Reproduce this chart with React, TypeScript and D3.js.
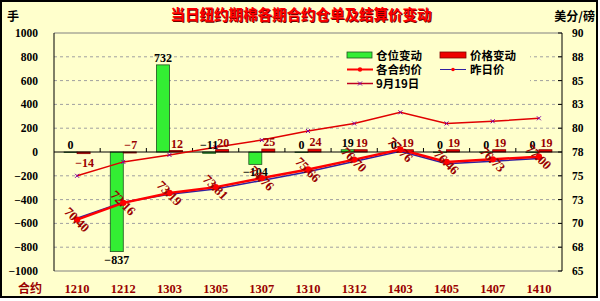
import React from "react";
import * as d3 from "d3";

const categories = ["1210", "1212", "1303", "1305", "1307", "1310", "1312", "1403", "1405", "1407", "1410"];
const positionChange = [0, -837, 732, -11, -104, 0, 19, 0, 0, 0, 0];
const priceChange = [-14, -7, 12, 20, 25, 24, 19, 19, 19, 19, 19];
const todayPrice = [70.40, 72.16, 73.19, 73.81, 74.76, 75.66, 76.70, 77.76, 76.46, 76.73, 77.00];
const yesterdayPrice = [70.54, 72.23, 73.07, 73.61, 74.51, 75.42, 76.51, 77.57, 76.27, 76.54, 76.81];
const sep19Price = [75.0, 76.46, 77.19, 78.0, 78.75, 79.7, 80.5, 81.67, 80.5, 80.73, 81.04];
const leftTicks = [-1000, -800, -600, -400, -200, 0, 200, 400, 600, 800, 1000];
const rightTicks = [65, 67.5, 70, 72.5, 75, 77.5, 80, 82.5, 85, 87.5, 90];

const BG = "#FFFFCC";
const DARKRED = "#990000";
const FONT = "'Liberation Serif', 'Noto Sans CJK SC', serif";
const CJK = "'Noto Sans CJK SC', sans-serif";

export default function App() {
  const W = 600, H = 301;
  const left = 54, right = 562, top = 33, bottom = 271;
  const x = d3.scaleBand<string>().domain(categories).range([left, right]).padding(0);
  const yL = d3.scaleLinear().domain([-1000, 1000]).range([bottom, top]);
  const yR = d3.scaleLinear().domain([65, 90]).range([bottom, top]);
  const cx = (c: string) => (x(c) as number) + x.bandwidth() / 2;
  const bw = 13;

  const lineR = d3.line<number>().x((_, i) => cx(categories[i])).y((v) => yR(v));

  return (
    <div style={{ position: "fixed", left: 0, top: 0 }}>
      <svg width={W} height={H} style={{ display: "block", background: "#fff" }}>
        <rect x={1} y={1} width={596} height={296} fill={BG} stroke="#000" strokeWidth={2} />
        {/* title */}
        <text x={301} y={20} textAnchor="middle" fontFamily={CJK} fontWeight="bold" fontSize={14.5} fill="#700000" dx={1} dy={1}>
          当日纽约期棉各期合约仓单及结算价变动
        </text>
        <text x={301} y={20} textAnchor="middle" fontFamily={CJK} fontWeight="bold" fontSize={14.5} fill="#FF0000">
          当日纽约期棉各期合约仓单及结算价变动
        </text>
        <text x={7} y={21} fontFamily={CJK} fontWeight="bold" fontSize={12} fill="#000">手</text>
        <text x={595} y={21} textAnchor="end" fontFamily={CJK} fontWeight="bold" fontSize={12} fill="#000">美分/磅</text>

        {/* grid */}
        {leftTicks.filter((t) => t !== 0 && t !== 1000 && t !== -1000).map((t) => (
          <line key={"g" + t} x1={left} x2={right} y1={yL(t)} y2={yL(t)} stroke="#A0A0A0" strokeDasharray="3,3" strokeWidth={1} />
        ))}
        <line x1={left} x2={right} y1={top} y2={top} stroke="#808080" />
        <line x1={left} x2={right} y1={bottom} y2={bottom} stroke="#808080" />
        <line x1={left} x2={left} y1={top} y2={bottom} stroke="#000" />
        <line x1={right} x2={right} y1={top} y2={bottom} stroke="#000" />
        {rightTicks.map((t) => (
          <line key={"rt" + t} x1={right - 4} x2={right} y1={yR(t)} y2={yR(t)} stroke="#000" />
        ))}

        {/* left axis labels */}
        {leftTicks.map((t) => (
          <text key={"l" + t} x={38} y={yL(t)} dy="0.35em" textAnchor="end" fontFamily={FONT} fontWeight="bold" fontSize={11.5} fill="#000">
            {t < 0 ? "\u2212" + Math.abs(t) : t}
          </text>
        ))}
        {rightTicks.map((t) => (
          <text key={"r" + t} x={572} y={yR(t)} dy="0.35em" textAnchor="start" fontFamily={FONT} fontWeight="bold" fontSize={11.5} fill="#000">
            {Math.round(t)}
          </text>
        ))}

        {/* legend background */}
        <rect x={340} y={44} width={190} height={48} fill={BG} />

        {/* bars */}
        {categories.map((c, i) => {
          const v = positionChange[i];
          const y0 = yL(0), y1 = yL(v);
          return (
            <rect key={"gb" + c} x={cx(c) - bw} y={Math.min(y0, y1)} width={bw} height={Math.max(0.5, Math.abs(y1 - y0))}
              fill="#33EE33" stroke="#205020" strokeWidth={0.8} />
          );
        })}
        {categories.map((c, i) => {
          const v = priceChange[i];
          const y0 = yL(0), y1 = yL(v);
          return (
            <rect key={"rb" + c} x={cx(c)} y={Math.min(y0, y1)} width={bw} height={Math.max(1, Math.abs(y1 - y0))}
              fill="#EE0000" stroke="#800000" strokeWidth={0.8} />
          );
        })}

        {/* zero axis */}
        <line x1={left} x2={right} y1={yL(0)} y2={yL(0)} stroke="#000" />
        {categories.slice(1).map((c) => (
          <line key={"t" + c} x1={x(c) as number} x2={x(c) as number} y1={yL(0) - 4} y2={yL(0)} stroke="#000" />
        ))}

        {/* lines */}
        <path d={lineR(sep19Price) || ""} fill="none" stroke="#E00000" strokeWidth={1.5} />
        {sep19Price.map((v, i) => {
          const px = cx(categories[i]), py = yR(v);
          return (
            <g key={"s" + i} stroke="#8000A0" strokeWidth={1}>
              <line x1={px - 2} x2={px + 2} y1={py - 2} y2={py + 2} />
              <line x1={px - 2} x2={px + 2} y1={py + 2} y2={py - 2} />
            </g>
          );
        })}
        <path d={lineR(yesterdayPrice) || ""} fill="none" stroke="#3020A0" strokeWidth={1.5} />
        <path d={lineR(todayPrice) || ""} fill="none" stroke="#FF0000" strokeWidth={2.5} />
        {todayPrice.map((v, i) => (
          <circle key={"d" + i} cx={cx(categories[i])} cy={yR(v)} r={3.2} fill="#FF0000" />
        ))}

        {/* bar labels */}
        {categories.map((c, i) => {
          const v = positionChange[i];
          const below = v < -12;
          const yy = below ? yL(v) + 12 : Math.min(yL(v), yL(0)) - 3;
          return (
            <text key={"gl" + c} x={cx(c) - bw / 2} y={yy} textAnchor="middle" fontFamily={FONT} fontWeight="bold" fontSize={12} fill="#000">
              {v < 0 ? "\u2212" + Math.abs(v) : v}
            </text>
          );
        })}
        {categories.map((c, i) => {
          const v = priceChange[i];
          const below = v < -12;
          const yy = below ? yL(v) + 13 : Math.min(yL(v), yL(0)) - 3;
          return (
            <text key={"rl" + c} x={cx(c) + bw / 2 + 1} y={yy} textAnchor="middle" fontFamily={FONT} fontWeight="bold" fontSize={12} fill={DARKRED}>
              {v < 0 ? "\u2212" + Math.abs(v) : v}
            </text>
          );
        })}
        {todayPrice.map((v, i) => {
          const px = cx(categories[i]), py = yR(v);
          return (
            <text key={"pl" + i} x={0} y={0} transform={`translate(${px},${py}) rotate(45)`} textAnchor="middle" dy="0.35em"
              fontFamily={FONT} fontWeight="bold" fontSize={13} fill={DARKRED}>
              {v.toFixed(2)}
            </text>
          );
        })}

        {/* legend */}
        <rect x={347} y={52} width={25} height={6} fill="#33EE33" stroke="#205020" strokeWidth={0.8} />
        <text x={376} y={59.5} fontFamily={CJK} fontWeight="bold" fontSize={11.5} fill="#000">仓位变动</text>
        <rect x={440} y={52} width={26} height={6} fill="#EE0000" stroke="#800000" strokeWidth={0.8} />
        <text x={470} y={59.5} fontFamily={CJK} fontWeight="bold" fontSize={11.5} fill="#000">价格变动</text>
        <line x1={347} x2={373} y1={69.5} y2={69.5} stroke="#FF0000" strokeWidth={2} />
        <circle cx={360} cy={69.5} r={2.2} fill="#FF0000" />
        <text x={376} y={73.5} fontFamily={CJK} fontWeight="bold" fontSize={11.5} fill="#000">各合约价</text>
        <line x1={440} x2={466} y1={69.5} y2={69.5} stroke="#3020A0" strokeWidth={1} />
        <circle cx={453} cy={69.5} r={1.8} fill="#FF0000" />
        <text x={470} y={73.5} fontFamily={CJK} fontWeight="bold" fontSize={11.5} fill="#000">昨日价</text>
        <line x1={347} x2={373} y1={83.5} y2={83.5} stroke="#C00020" strokeWidth={1.5} />
        <g stroke="#8000A0" strokeWidth={1}>
          <line x1={358} x2={362} y1={81.5} y2={85.5} />
          <line x1={358} x2={362} y1={85.5} y2={81.5} />
        </g>
        <text x={376} y={87.5} fontFamily={CJK} fontWeight="bold" fontSize={11.5} fill="#000">9月19日</text>

        {/* x labels */}
        <text x={18} y={293} fontFamily={CJK} fontWeight="bold" fontSize={12} fill={DARKRED}>合约</text>
        {categories.map((c) => (
          <text key={"x" + c} x={cx(c)} y={293} textAnchor="middle" fontFamily={FONT} fontWeight="bold" fontSize={12.5} fill={DARKRED}>
            {c}
          </text>
        ))}
      </svg>
    </div>
  );
}
